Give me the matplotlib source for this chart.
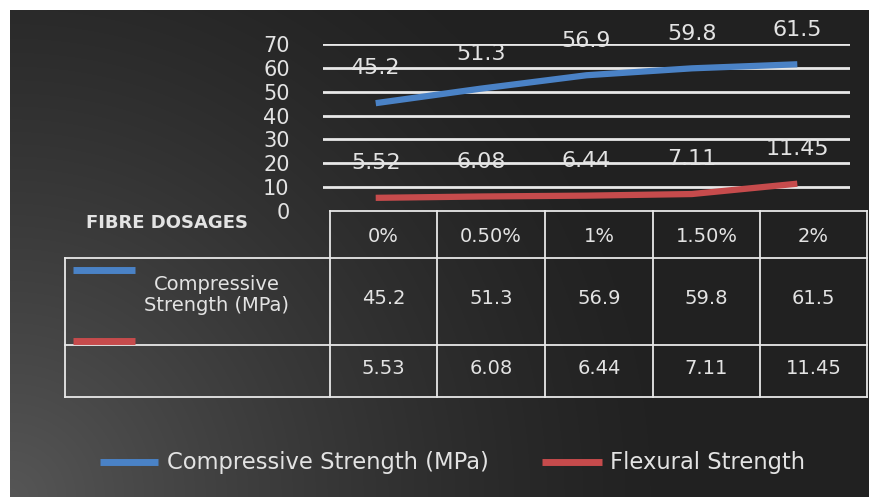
import numpy as np
import matplotlib.pyplot as plt
from matplotlib.lines import Line2D

plt.rcParams['font.family'] = ['DejaVu Sans']

dosages = ['0%', '0.50%', '1%', '1.50%', '2%']
compressive = [45.2, 51.3, 56.9, 59.8, 61.5]
flexural = [5.52, 6.08, 6.44, 7.11, 11.45]
table_comp = ['45.2', '51.3', '56.9', '59.8', '61.5']
table_flex = ['5.53', '6.08', '6.44', '7.11', '11.45']
yticks = [0, 10, 20, 30, 40, 50, 60, 70]

W, H = 869, 497
BLUE = '#4a82c6'
RED = '#c64b4c'
TXT = '#e3e3e3'
LINE = '#e8e8e8'

fig = plt.figure(figsize=(W / 100, H / 100), dpi=100)
fig.patch.set_facecolor('white')

# dark radial fill, lighter towards the bottom-left corner
bg = fig.add_axes([10 / W, 0, 1 - 10 / W, 1 - 10 / H])
yy, xx = np.mgrid[0:487, 0:859]
r = np.hypot(xx, 487 - yy) / 680.0
shade = 0x21 + (0x56 - 0x21) * np.clip(1 - r, 0, 1) ** 1.4
img = np.dstack([shade, shade, shade]) / 255.0
bg.imshow(img, aspect='auto', extent=[0, 1, 0, 1], interpolation='bilinear')
bg.set_axis_off()

# line plot area
ax = fig.add_axes([323 / W, 1 - 211 / H, (850 - 323) / W, (211 - 44) / H])
ax.set_facecolor('none')
x = np.arange(len(dosages))
ax.set_xlim(-0.5, len(dosages) - 0.5)
ax.set_ylim(0, 70)
for t in yticks[1:]:
    ax.axhline(t, color=LINE, lw=2, zorder=1)
ax.plot(x, compressive, color=BLUE, lw=4.5, solid_capstyle='butt', solid_joinstyle='round', zorder=3)
ax.plot(x, flexural, color=RED, lw=4.5, solid_capstyle='butt', solid_joinstyle='round', zorder=3)
for xi, v in zip(x, compressive):
    ax.annotate(f'{v:g}', (xi, v), xytext=(0, 25), textcoords='offset points',
                ha='center', va='center', color=TXT, fontsize=16, zorder=2)
for xi, v in zip(x, flexural):
    ax.annotate(f'{v:g}', (xi, v), xytext=(0, 25), textcoords='offset points',
                ha='center', va='center', color=TXT, fontsize=16, zorder=2)
ax.set_yticks(yticks)
ax.set_yticklabels([str(t) for t in yticks], fontsize=15, color=TXT)
ax.tick_params(axis='y', length=0, pad=24)
ax.set_xticks([])
for s in ax.spines.values():
    s.set_visible(False)

# data table and legend, laid out in pixel units
ov = fig.add_axes([0, 0, 1, 1])
ov.set_xlim(0, W)
ov.set_ylim(H, 0)
ov.set_axis_off()
ov.patch.set_alpha(0)

cols = [330, 437, 545, 653, 760, 867]
rows = [211, 258, 345, 397]
lk = dict(color=LINE, lw=1.3)
ov.plot([cols[0], cols[-1]], [rows[0], rows[0]], **lk)
for y in rows[1:]:
    ov.plot([65, cols[-1]], [y, y], **lk)
for c in cols:
    ov.plot([c, c], [rows[0], rows[-1]], **lk)
ov.plot([65, 65], [rows[1], rows[-1]], **lk)

for i, lab in enumerate(dosages):
    cx = (cols[i] + cols[i + 1]) / 2
    ov.text(cx, (rows[0] + rows[1]) / 2 + 2, lab, ha='center', va='center', color=TXT, fontsize=14)
    ov.text(cx, (rows[1] + rows[2]) / 2 - 3, table_comp[i], ha='center', va='center', color=TXT, fontsize=14)
    ov.text(cx, (rows[2] + rows[3]) / 2 - 3, table_flex[i], ha='center', va='center', color=TXT, fontsize=14)

ov.text(167, 223, 'FIBRE DOSAGES', ha='center', va='center', color=TXT, fontsize=13, fontweight='bold')
ov.text(217, 295, 'Compressive\nStrength (MPa)', ha='center', va='center', color=TXT,
        fontsize=14, linespacing=1.1)
ov.add_line(Line2D([73, 135], [270, 270], color=BLUE, lw=5, solid_capstyle='butt'))
ov.add_line(Line2D([73, 135], [341, 341], color=RED, lw=5, solid_capstyle='butt'))

# legend below the table
ov.add_line(Line2D([100, 158], [462, 462], color=BLUE, lw=5, solid_capstyle='butt'))
ov.text(167, 462, 'Compressive Strength (MPa)', ha='left', va='center', color=TXT, fontsize=16.3)
ov.add_line(Line2D([542, 602], [462, 462], color=RED, lw=5, solid_capstyle='butt'))
ov.text(610, 462, 'Flexural Strength', ha='left', va='center', color=TXT, fontsize=16.3)

fig.savefig('out.png', dpi=100)
